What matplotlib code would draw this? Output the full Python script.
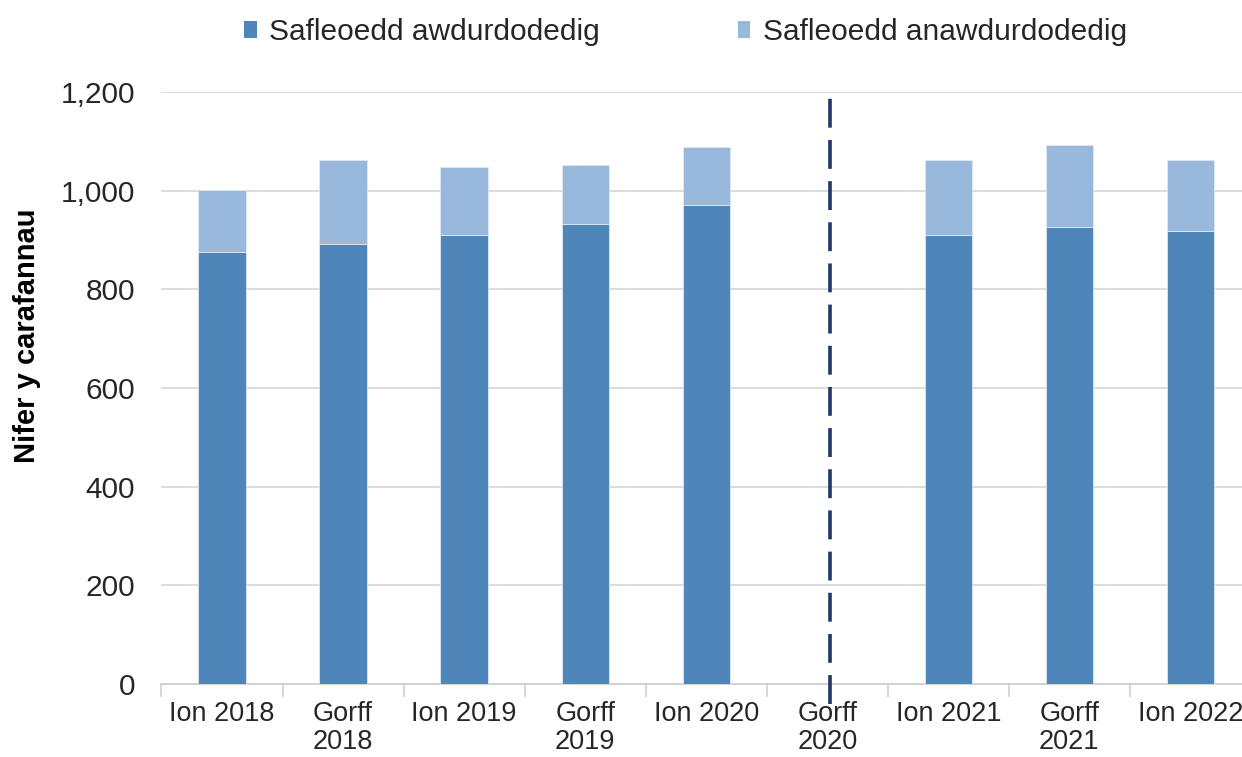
import matplotlib
matplotlib.use("Agg")
import matplotlib.pyplot as plt
import numpy as np
from matplotlib.patches import Patch

plt.rcParams['font.family'] = ['Liberation Sans', 'DejaVu Sans']

categories = ["Ion 2018", "Gorff\n2018", "Ion 2019", "Gorff\n2019", "Ion 2020",
              "Gorff\n2020", "Ion 2021", "Gorff\n2021", "Ion 2022"]
authorised = [876, 892, 911, 933, 971, np.nan, 910, 926, 918]
totals = [1002, 1062, 1047, 1051, 1088, np.nan, 1062, 1093, 1062]
unauthorised = [t - a for t, a in zip(totals, authorised)]
series_names = ["Safleoedd awdurdodedig", "Safleoedd anawdurdodedig"]
yticks = [0, 200, 400, 600, 800, 1000, 1200]
separator_index = 5

c_dark = "#4f86b9"
c_light = "#99b9dc"
txt = "#262626"

fig = plt.figure(figsize=(12.42, 7.57), dpi=100)
ax = fig.add_axes([0.130, 0.0964, 0.8772, 0.7821])

x = np.arange(len(categories))
w = 0.39
ax.bar(x, authorised, w, color=c_dark, edgecolor="#dfe8f2", linewidth=0.6, zorder=3)
ax.bar(x, unauthorised, w, bottom=authorised, color=c_light, edgecolor="#dfe8f2",
       linewidth=0.6, zorder=3)

ax.set_xlim(-0.5, len(categories) - 0.5)
ax.set_ylim(0, 1200)
ax.set_yticks(yticks)
ax.set_yticklabels([f"{v:,}" for v in yticks], fontsize=21.5, color=txt)
ax.yaxis.grid(True, color="#d9d9d9", linewidth=1.3, zorder=0)
ax.tick_params(axis='y', length=0, pad=19)

ax.set_xticks(x)
ax.set_xticklabels(categories, fontsize=19.5, color=txt, linespacing=1.08)
ax.set_xticks(np.arange(-0.5, len(categories), 1), minor=True)
ax.tick_params(axis='x', which='major', length=0, pad=12.5)
ax.tick_params(axis='x', which='minor', length=9, color="#d0d0d0", width=1.2)
# keep the last label inside the figure, as in the reference
ax.get_xticklabels()[-1].set_x(len(categories) - 1.03)

for s in ["left", "right", "top"]:
    ax.spines[s].set_visible(False)
ax.spines["bottom"].set_color("#d0d0d0")
ax.spines["bottom"].set_linewidth(1.3)

ax.plot([separator_index + 0.02, separator_index + 0.02], [-40, 1188], color="#1f3868",
        linewidth=2.6, dashes=(8, 3.4), clip_on=False, zorder=4)

fig.text(0.022, 0.556, "Nifer y carafannau", rotation=90, fontsize=21,
         fontweight="bold", color="#000000", ha="center", va="center")

handles = [Patch(facecolor=c_dark), Patch(facecolor=c_light)]
fig.legend(handles, series_names, loc="center", bbox_to_anchor=(0.552, 0.958),
           ncol=2, frameon=False, fontsize=21.5, handlelength=0.42, handleheight=0.5,
           handletextpad=0.42, columnspacing=4.6, labelcolor=txt)

fig.savefig("out.png", dpi=100)
